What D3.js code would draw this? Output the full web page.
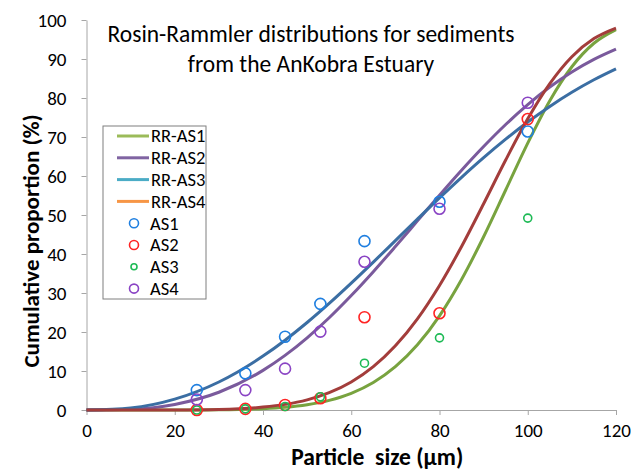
<!DOCTYPE html>
<html>
<head>
<meta charset="utf-8">
<script src="https://cdn.jsdelivr.net/npm/d3@7"></script>
<style>
    body { margin: 0; background: #fff; }
    #chart { width: 633px; height: 472px; }
    text { font-family: Carlito, Lato, "Open Sans", sans-serif; fill: #000; white-space: pre; }
</style>
</head>
<body>
<div id="chart"></div>
<script>
// measured sieve sizes (µm) and cumulative proportions (%)
let sieveSizes = [25, 36, 45, 53, 63, 80, 100];
let as1 = [5.1, 9.4, 18.8, 27.2, 43.3, 53.4, 71.4];
let as2 = [0, 0.3, 1.3, 3.0, 23.8, 24.8, 74.6];
let as3 = [0, 0.3, 0.9, 3.4, 12.0, 18.5, 49.2];
let as4 = [2.7, 5.1, 10.6, 20.1, 38.0, 51.6, 78.8];

// fitted Rosin-Rammler curves
let fitSizes = [0, 10, 20, 30, 40, 45, 50, 55, 60, 65, 70, 75, 80, 85, 90, 95, 100, 105, 110, 115, 120];
let rrAS1 = [0, 0, 0, 0.05, 0.33, 0.69, 1.36, 2.48, 4.29, 7.06, 11.10, 16.71, 24.15, 33.47, 44.43, 56.41, 68.43, 79.31, 88.02, 94.04, 97.54];
let rrAS2 = [0, 0.19, 1.43, 4.55, 10.16, 14.00, 18.51, 23.65, 29.35, 35.47, 41.91, 48.49, 55.07, 61.47, 67.55, 73.20, 78.30, 82.80, 86.66, 89.89, 92.52];
let rrAS3 = [0, 0.53, 2.78, 7.18, 13.82, 17.90, 22.43, 27.33, 32.53, 37.92, 43.43, 48.94, 54.38, 59.66, 64.70, 69.44, 73.84, 77.85, 81.46, 84.67, 87.47];
let rrAS4 = [0, 0, 0.01, 0.14, 0.74, 1.44, 2.60, 4.44, 7.19, 11.11, 16.45, 23.37, 31.93, 41.92, 52.89, 64.10, 74.65, 83.67, 90.58, 95.23, 97.93];

let xTicks = [0, 20, 40, 60, 80, 100, 120];
let yTicks = [0, 10, 20, 30, 40, 50, 60, 70, 80, 90, 100];

let titleLines = ["Rosin-Rammler distributions for sediments", "from the AnKobra Estuary"];

class rrChart {

    constructor(parentElement) {
        this.parentElement = parentElement;
        this.initVis();
    }

    initVis() {
        let vis = this;

        vis.margin = { top: 20, right: 17, bottom: 62, left: 86.5 };
        vis.width = 633 - vis.margin.left - vis.margin.right;
        vis.height = 472 - vis.margin.top - vis.margin.bottom;

        vis.svg = d3.select("#" + vis.parentElement).append("svg")
            .attr("width", 633)
            .attr("height", 472)
            .append("g")
            .attr("transform", "translate(" + vis.margin.left + "," + vis.margin.top + ")");

        vis.x = d3.scaleLinear().domain([0, 120]).range([0, vis.width]);
        vis.y = d3.scaleLinear().domain([0, 100]).range([vis.height, 0]);

        // curves (plot colours) and legend colours
        vis.curves = [
            { name: "RR-AS1", values: rrAS1, stroke: "#78a33f", legend: "#9bbb59" },
            { name: "RR-AS2", values: rrAS2, stroke: "#7a5a9c", legend: "#8064a2" },
            { name: "RR-AS3", values: rrAS3, stroke: "#3b6ea3", legend: "#4bacc6" },
            { name: "RR-AS4", values: rrAS4, stroke: "#a33d3b", legend: "#f79646" }
        ];
        vis.samples = [
            { name: "AS1", values: as1, color: "#1f7fe0", r: 5.5 },
            { name: "AS2", values: as2, color: "#ff2424", r: 5.5 },
            { name: "AS3", values: as3, color: "#1dba55", r: 4 },
            { name: "AS4", values: as4, color: "#8a44c4", r: 5.5 }
        ];

        vis.wrangleData();
    }

    wrangleData() {
        let vis = this;

        vis.curves.forEach(c => {
            c.points = fitSizes.map((s, i) => ({ x: s, y: c.values[i] }));
        });
        vis.samples.forEach(s => {
            s.points = sieveSizes.map((v, i) => ({ x: v, y: s.values[i] }));
        });

        vis.updateVis();
    }

    updateVis() {
        let vis = this;

        // axes
        let xAxis = vis.svg.append("g")
            .attr("class", "x-axis axis")
            .attr("transform", "translate(0," + vis.height + ")")
            .call(d3.axisBottom(vis.x).tickValues(xTicks).tickSize(5).tickSizeOuter(0).tickPadding(9));

        let yAxis = vis.svg.append("g")
            .attr("class", "y-axis axis")
            .call(d3.axisLeft(vis.y).tickValues(yTicks).tickSize(5).tickSizeOuter(0).tickPadding(15));

        [xAxis, yAxis].forEach(a => {
            a.select(".domain").attr("stroke", "#a6a6a6").attr("stroke-width", 1);
            a.selectAll(".tick line").attr("stroke", "#a6a6a6");
            a.selectAll(".tick text")
                .style("font-size", "19px")
                .style("font-family", "Carlito, Lato, 'Open Sans', sans-serif")
                .attr("fill", "#000");
        });

        // Rosin-Rammler lines
        let line = d3.line()
            .x(d => vis.x(d.x))
            .y(d => vis.y(d.y))
            .curve(d3.curveMonotoneX);

        vis.svg.selectAll(".rr-line")
            .data(vis.curves)
            .join("path")
            .attr("class", "rr-line")
            .attr("d", d => line(d.points))
            .attr("fill", "none")
            .attr("stroke", d => d.stroke)
            .attr("stroke-width", 3);

        // sample points
        vis.svg.selectAll(".sample")
            .data(vis.samples)
            .join("g")
            .attr("class", "sample")
            .each(function (s) {
                d3.select(this).selectAll("circle")
                    .data(s.points)
                    .join("circle")
                    .attr("cx", d => vis.x(d.x))
                    .attr("cy", d => vis.y(d.y))
                    .attr("r", s.r)
                    .attr("fill", "none")
                    .attr("stroke", s.color)
                    .attr("stroke-width", 1.6);
            });

        // title
        vis.svg.append("text")
            .attr("x", 224.5)
            .attr("y", 22)
            .attr("text-anchor", "middle")
            .style("font-size", "23.5px")
            .selectAll("tspan")
            .data(titleLines)
            .join("tspan")
            .attr("x", 224.5)
            .attr("dy", (d, i) => i === 0 ? 0 : 30)
            .text(d => d);

        // axis titles
        vis.svg.append("text")
            .attr("x", vis.width / 2 + 26)
            .attr("y", vis.height + 55)
            .attr("text-anchor", "middle")
            .style("font-size", "23.5px")
            .style("font-weight", "bold")
            .text("Particle  size (µm)");

        vis.svg.append("text")
            .attr("transform", "translate(" + (-48) + "," + (vis.height / 2 + 26) + ") rotate(-90)")
            .attr("text-anchor", "middle")
            .style("font-size", "23px")
            .style("font-weight", "bold")
            .text("Cumulative proportion (%)");

        // legend
        let legend = vis.svg.append("g")
            .attr("transform", "translate(" + (103 - vis.margin.left) + "," + (126 - vis.margin.top) + ")");

        legend.append("rect")
            .attr("width", 103)
            .attr("height", 173)
            .attr("fill", "#fff")
            .attr("stroke", "#7f7f7f")
            .attr("stroke-width", 1);

        let entries = vis.curves.map(c => ({ name: c.name, type: "line", color: c.legend }))
            .concat(vis.samples.map(s => ({ name: s.name, type: "circle", color: s.color, r: s.r })));

        let rows = legend.selectAll(".legend-row")
            .data(entries)
            .join("g")
            .attr("class", "legend-row")
            .attr("transform", (d, i) => "translate(0," + (10 + i * 21.8) + ")");

        rows.filter(d => d.type === "line").append("line")
            .attr("x1", 14).attr("x2", 46)
            .attr("y1", 0).attr("y2", 0)
            .attr("stroke", d => d.color)
            .attr("stroke-width", 3);

        rows.filter(d => d.type === "circle").append("circle")
            .attr("cx", 31)
            .attr("cy", 0)
            .attr("r", d => d.r - 1)
            .attr("fill", "none")
            .attr("stroke", d => d.color)
            .attr("stroke-width", 1.6);

        rows.append("text")
            .attr("x", d => d.type === "line" ? 48 : 47)
            .attr("y", 0)
            .attr("dy", "0.35em")
            .style("font-size", "18.5px")
            .text(d => d.name);
    }
}

new rrChart("chart");
</script>
</body>
</html>
